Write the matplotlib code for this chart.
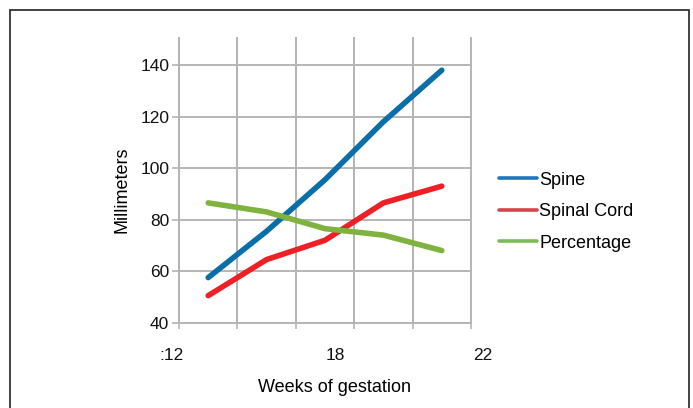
import matplotlib
matplotlib.use("Agg")
import matplotlib.pyplot as plt
from matplotlib.patches import Rectangle

plt.rcParams['font.family'] = ['Liberation Sans', 'DejaVu Sans']

weeks = [13, 15, 17, 19, 21]
spine = [57.5, 75.5, 95.5, 118, 138]
spinal_cord = [50.5, 64.5, 72, 86.5, 93]
percentage = [86.5, 83, 76.5, 74, 68]

xlabel_pos = [11.75, 17.34, 22.41]
xlabel_text = [':12', '18', '22']
grid_x = [12, 14, 16, 18, 20, 22]
yticks = [40, 60, 80, 100, 120, 140]

line_colors = ['#0a6fa8', '#ee2026', '#7fb23e']
legend_colors = ['#1f76bd', '#d8434b', '#7fba5a']

W, H = 693, 408
fig = plt.figure(figsize=(W / 100, H / 100), dpi=100)
fig.patches.append(Rectangle((10 / W, -0.1), (689 - 10) / W, (H - 10) / H + 0.1,
                             transform=fig.transFigure, fill=False,
                             edgecolor='#222222', lw=1.2))

ax = fig.add_axes([179 / W, (H - 322.7) / H, 292 / W, 284.7 / H])

grid_c = '#b5b5b5'
ax.set_yticks(yticks)
ax.set_xticks(grid_x)
ax.set_xlim(12, 22)
ax.set_ylim(40, 150.5)
ax.grid(True, which='major', axis='both', color=grid_c, lw=1.4)
for gx in grid_x:
    ax.axvline(gx, color=grid_c, lw=1.4, zorder=0.9, clip_on=False)
ax.tick_params(axis='y', which='major', length=5, width=1.2, color=grid_c,
               labelsize=12.5, pad=2, labelcolor='#111111')
ax.tick_params(axis='x', which='major', length=4, width=1.2, color=grid_c,
               labelbottom=False)
for s in ['top', 'right']:
    ax.spines[s].set_visible(False)
for s in ['left', 'bottom']:
    ax.spines[s].set_color(grid_c)
    ax.spines[s].set_linewidth(1.4)

xtrans = ax.get_xaxis_transform()
for xp, t in zip(xlabel_pos, xlabel_text):
    ax.text(xp, -(355 - 322.7) / 284.7, t, transform=xtrans, ha='center',
            va='center', fontsize=12.5, color='#111111', clip_on=False)

series = [('Spine', spine), ('Spinal Cord', spinal_cord), ('Percentage', percentage)]
for (name, vals), c in zip(series, line_colors):
    ax.plot(weeks, vals, color=c, lw=4, solid_capstyle='round',
            solid_joinstyle='round', label=name, zorder=3)

ax.set_ylabel('Millimeters', fontsize=13)
ax.yaxis.set_label_coords(-0.195, 0.466)
ax.set_xlabel('Weeks of gestation', fontsize=13)
ax.xaxis.set_label_coords((334 - 179) / 292, -(387.5 - 322.7) / 284.7)
ax.xaxis.label.set_va('center')
ax.yaxis.label.set_va('center')

leg = ax.legend(loc='center left', bbox_to_anchor=(1.07, 0.39), frameon=False,
                fontsize=13, handlelength=2.1, handletextpad=0.15,
                labelspacing=0.8, borderaxespad=0)
for l, c in zip(leg.get_lines(), legend_colors):
    l.set_color(c)
    l.set_linewidth(2.6)

fig.savefig('out.png', dpi=100)
